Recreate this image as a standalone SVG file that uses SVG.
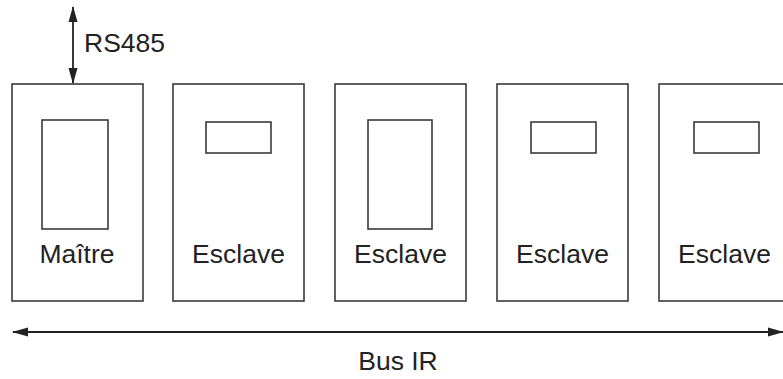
<svg xmlns="http://www.w3.org/2000/svg" width="783" height="379" viewBox="0 0 783 379">
<style>
.box{fill:#fff;stroke:#3a3a3a;stroke-width:1.6}
.in{fill:#fff;stroke:#3a3a3a;stroke-width:1.6}
.lbl{font-family:"Liberation Sans",Arial,sans-serif;font-size:26.5px;fill:#222;text-anchor:middle}
.ln{stroke:#222;stroke-width:1.8;fill:none}
</style>
<defs>
<marker id="ah" viewBox="0 0 16 10" refX="15" refY="5" markerWidth="16" markerHeight="10" markerUnits="userSpaceOnUse" orient="auto-start-reverse">
<path d="M0,0.5 L16,5 L0,9.5 Z" fill="#222"/>
</marker>
</defs>
<rect width="783" height="379" fill="#fff"/>
<g id="master">
<rect class="box" x="12" y="84" width="131" height="217"/>
<rect class="in" x="42" y="120" width="66" height="109"/>
<text class="lbl" x="77" y="263">Maître</text>
</g>
<g id="slave1">
<rect class="box" x="173" y="84" width="131" height="217"/>
<rect class="in" x="206" y="122" width="65" height="31"/>
<text class="lbl" x="238.5" y="263">Esclave</text>
</g>
<g id="slave2">
<rect class="box" x="335" y="84" width="131" height="217"/>
<rect class="in" x="368" y="120" width="64" height="109"/>
<text class="lbl" x="400.5" y="263">Esclave</text>
</g>
<g id="slave3">
<rect class="box" x="497" y="84" width="131" height="217"/>
<rect class="in" x="531" y="122" width="65" height="31"/>
<text class="lbl" x="562.5" y="263">Esclave</text>
</g>
<g id="slave4">
<rect class="box" x="659" y="84" width="131" height="217"/>
<rect class="in" x="694" y="122" width="65" height="31"/>
<text class="lbl" x="724.5" y="263">Esclave</text>
</g>
<g id="connectors">
<line class="ln" x1="73" y1="7" x2="73" y2="83" marker-start="url(#ah)" marker-end="url(#ah)"/>
<line class="ln" x1="13" y1="332" x2="783" y2="332" marker-start="url(#ah)" marker-end="url(#ah)"/>
</g>
<text class="lbl" x="84" y="52" style="text-anchor:start">RS485</text>
<text class="lbl" x="398" y="370">Bus IR</text>
</svg>
